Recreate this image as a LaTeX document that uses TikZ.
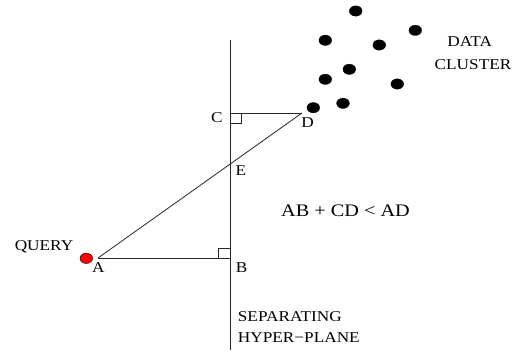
\documentclass[tikz,border=0pt]{standalone}
\usepackage{fontspec}
\setmainfont[FakeStretch=1.15]{Liberation Serif}
\begin{document}
\begin{tikzpicture}[x=1pt,y=-1pt,
  ln/.style={draw=black!85,line width=0.8pt},
  dot/.style={fill=black,draw=black,line width=0.3pt},
  lbl/.style={inner sep=0pt,anchor=base,font=\fontsize{15}{17}\selectfont},
  lblw/.style={inner sep=0pt,anchor=base west,font=\fontsize{15}{17}\selectfont},
  eq/.style={inner sep=0pt,anchor=base,font=\fontsize{17.6}{20}\selectfont}]
\useasboundingbox (0,0) rectangle (520,352);
% key points
\coordinate (top) at (230,40);
\coordinate (bot) at (230,350);
\coordinate (A) at (98,258);
\coordinate (B) at (230,258);
\coordinate (C) at (230,113);
\coordinate (D) at (302,113);
% hyperplane and triangle lines
\draw[ln] (top) -- (bot);
\draw[ln] (A) -- (B);
\draw[ln] (C) -- (D);
\draw[ln] (A) -- (D);
% right angle marks
\draw[ln] (230,123) -- (241.5,123) -- (241.5,113);
\draw[ln] (218,258) -- (218,248) -- (230,248);
% query point
\fill[red,draw=black,line width=0.4pt] (86.3,258.3) ellipse [x radius=6.3,y radius=5.2];
% data cluster
\foreach \p in {(355.7,11),(415.3,30.3),(325.3,40.3),(379.3,45),(349.3,69.3),(325.3,79.3),(397.3,84),(343,103.3),(313.3,107.7)}
  \path[dot] \p ellipse [x radius=6.4,y radius=5.2];
% labels
\node[lbl] (lq) at (44,250.5) {QUERY};
\node[lbl] (la) at (98.3,272.7) {A};
\node[lbl] (lb) at (241.7,273) {B};
\node[lbl] (lc) at (217,123) {C};
\node[lbl] (ld) at (307.5,128) {D};
\node[lbl] (le) at (241,176) {E};
\node[lbl] (ldata) at (469.7,46.7) {DATA};
\node[lbl] (lcl) at (473,70) {CLUSTER};
\node[lblw] (ls1) at (237.7,321.7) {SEPARATING};
\node[lblw] (ls2) at (237.7,343) {HYPER−PLANE};
\node[eq] (leq) at (345.5,217) {AB + CD < AD};
\end{tikzpicture}
\end{document}
